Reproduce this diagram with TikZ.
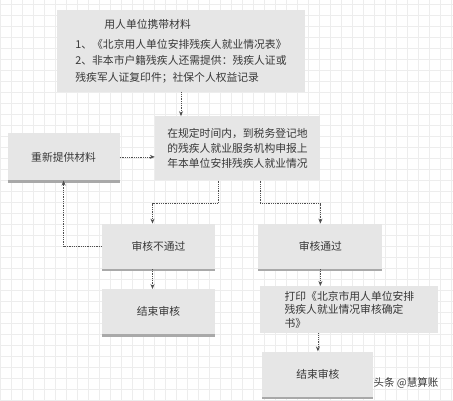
\documentclass[tikz,border=0pt]{standalone}
\usepackage{fontspec}
\setmainfont{Noto Sans CJK SC}
\usetikzlibrary{arrows.meta,positioning,calc,shadows}
\definecolor{boxgray}{HTML}{E6E6E6}
\definecolor{shadegray}{HTML}{A9A9A9}
\definecolor{inkgray}{HTML}{383838}
\definecolor{linegray}{HTML}{505050}
\definecolor{gridgray}{HTML}{EDEDED}

\begin{document}
\begin{tikzpicture}[x=1pt,y=1pt, every node/.style={font=\fontsize{10.8}{15}\selectfont, text=inkgray},
  card/.style={fill=boxgray, inner sep=0pt, align=center},
  shadecard/.style={card, drop shadow={shadow xshift=0pt, shadow yshift=-2.5pt, fill=shadegray, opacity=1}},
  flow/.style={-{Stealth[length=5pt,width=4pt]}, densely dotted, line width=0.8pt, linegray}]
\useasboundingbox (0,0) rectangle (453,400);
\draw[gridgray, step=11pt] (0,0) grid (453,400);
\node[card,minimum width=248pt,minimum height=82pt,align=left,font=\fontsize{10.8}{16.5}\selectfont] (mat) at (181,349) {\hspace*{29pt}用人单位携带材料\\[3.5pt]1、《北京用人单位安排残疾人就业情况表》\\2、非本市户籍残疾人还需提供：残疾人证或\\残疾军人证复印件；社保个人权益记录};
\node[card,below=24pt of mat,xshift=56.5pt,minimum width=165pt,minimum height=64pt,align=left] (report) {在规定时间内，到税务登记地\\的残疾人就业服务机构申报上\\年本单位安排残疾人就业情况};
\node[shadecard,left=35pt of report,yshift=-8.5pt,minimum width=112pt,minimum height=47pt] (resub) {重新提供材料};
\node[shadecard,below=43pt of report,xshift=-79pt,minimum width=113pt,minimum height=45pt] (fail) {审核不通过};
\node[shadecard,right=43pt of fail,minimum width=124pt,minimum height=45pt] (pass) {审核通过};
\node[shadecard,below=20pt of fail,minimum width=113pt,minimum height=45pt] (endL) {结束审核};
\node[card,below=17pt of pass,xshift=29pt,minimum width=178pt,minimum height=47pt,align=left,font=\fontsize{10.8}{13.5}\selectfont] (print) {打印《北京市用人单位安排\\残疾人就业情况审核确定\\书》};
\node[shadecard,below=18pt of print,xshift=-31.5pt,minimum width=111pt,minimum height=45pt] (endR) {结束审核};
\node[font=\fontsize{10.5}{12}\selectfont] (mark) at (406,17) {头条 @慧算账};
% connectors
\coordinate (forkL) at ($(report.south)+(-19.5,-23)$);
\coordinate (forkR) at ($(report.south)+(22.5,-23)$);
\draw[flow] (mat.south) -- (mat.south |- report.north);
\draw[flow] (resub.east) -- (resub.east -| report.west);
\draw[flow] (forkL |- report.south) -- (forkL) -| ([xshift=-6pt]fail.north);
\draw[flow] (forkR |- report.south) -- (forkR) -| (pass.north);
\draw[flow] ([xshift=-6pt]fail.south) -- ([xshift=-6pt]endL.north);
\draw[flow] (pass.south) -- (pass.south |- print.north);
\draw[flow] (endR.north |- print.south) -- (endR.north);
\draw[flow] (fail.west) -| (resub.south);
\end{tikzpicture}
\end{document}
